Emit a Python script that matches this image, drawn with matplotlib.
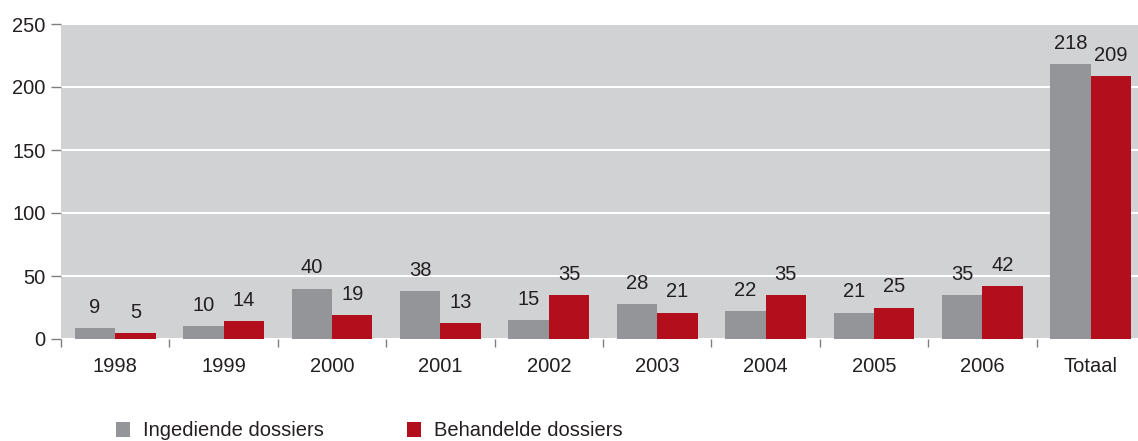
import matplotlib.pyplot as plt
import numpy as np

categories = ["1998", "1999", "2000", "2001", "2002", "2003", "2004", "2005", "2006", "Totaal"]
ingediend = [9, 10, 40, 38, 15, 28, 22, 21, 35, 218]
behandeld = [5, 14, 19, 13, 35, 21, 35, 25, 42, 209]
series_names = ["Ingediende dossiers", "Behandelde dossiers"]
y_ticks = [0, 50, 100, 150, 200, 250]

GREY = "#939598"
RED = "#b20e1c"
BG = "#d1d2d4"
TEXT = "#231f20"
FS = 14.5

plt.rcParams["font.family"] = ["Liberation Sans", "DejaVu Sans"]

fig = plt.figure(figsize=(11.38, 4.41), dpi=100)
# axes runs slightly past the right edge, as in the original
ax = fig.add_axes([61 / 1138, 1 - 339 / 441, 1084 / 1138, 315 / 441])
ax.set_facecolor(BG)

x = np.arange(len(categories))
w = 0.373
b1 = ax.bar(x - w / 2, ingediend, w, color=GREY, label=series_names[0], zorder=3)
b2 = ax.bar(x + w / 2, behandeld, w, color=RED, label=series_names[1], zorder=3)

for bars in (b1, b2):
    for rect in bars:
        h = rect.get_height()
        ax.annotate(f"{h:g}", (rect.get_x() + rect.get_width() / 2, h),
                    xytext=(0, 8), textcoords="offset points",
                    ha="center", va="bottom", fontsize=FS, color=TEXT)

ax.set_xlim(-0.5, len(categories) - 0.5)
ax.set_ylim(0, 250)
ax.set_yticks(y_ticks)
ax.yaxis.grid(True, color="white", linewidth=1.5, zorder=1)
ax.set_axisbelow(True)

ax.set_xticks(x)
ax.set_xticklabels(categories)
ax.set_xticks(np.arange(len(categories)) - 0.5, minor=True)
ax.tick_params(axis="x", which="major", length=0, pad=13, labelsize=FS, labelcolor=TEXT)
ax.tick_params(axis="x", which="minor", length=6, width=1, color="#7f7f7f")
ax.tick_params(axis="y", length=7, width=1, color="#7f7f7f", pad=4, labelsize=FS, labelcolor=TEXT)

for s in ax.spines.values():
    s.set_visible(False)

fig.legend(handles=[b1, b2], labels=series_names, loc="center left",
           bbox_to_anchor=(106 / 1138, 1 - 431 / 441), ncol=2, frameon=False,
           fontsize=FS, handlelength=0.7, handleheight=0.7, handletextpad=0.65,
           columnspacing=4.1, labelcolor=TEXT, borderpad=0)

fig.savefig("out.png", dpi=100)
